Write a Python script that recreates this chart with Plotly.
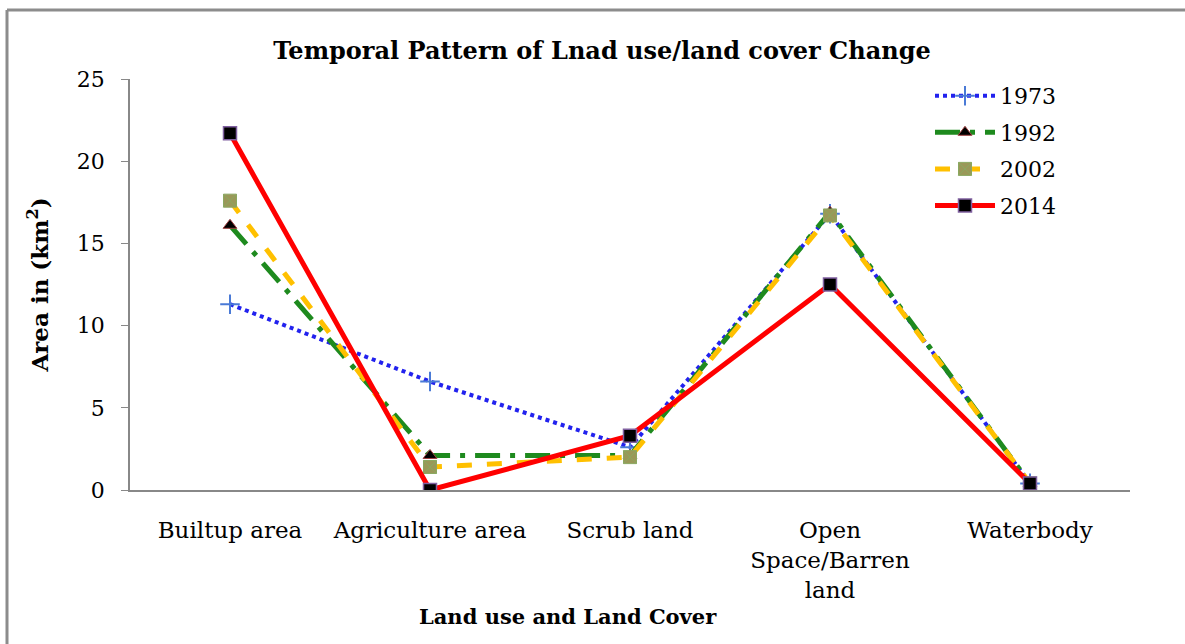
import plotly.graph_objects as go

categories = ["Builtup area", "Agriculture area", "Scrub land", "Open<br>Space/Barren<br>land", "Waterbody"]
y1973 = [11.3, 6.6, 2.6, 16.8, 0.4]
y1992 = [16.1, 2.1, 2.1, 16.9, 0.4]
y2002 = [17.6, 1.4, 2.0, 16.7, 0.4]
y2014 = [21.7, 0.0, 3.3, 12.5, 0.4]
y_ticks = [0, 5, 10, 15, 20, 25]

FONT = "DejaVu Serif"

fig = go.Figure()
fig.add_trace(go.Scatter(
    x=categories, y=y1973, name="1973", mode="lines+markers", legendgroup="a",
    line=dict(color="#2222ee", width=4, dash="dot"),
    marker=dict(symbol="cross-thin", size=14, line=dict(color="#4a7ad6", width=2))))
fig.add_trace(go.Scatter(
    x=categories, y=y1992, name="1992", mode="lines+markers", legendgroup="b",
    line=dict(color="#1e8a1e", width=5, dash="longdashdot"),
    marker=dict(symbol="triangle-up", size=12, color="#000000", line=dict(color="#a04040", width=1))))
fig.add_trace(go.Scatter(
    x=categories, y=y2002, name="2002", mode="lines+markers", legendgroup="c",
    line=dict(color="#ffc000", width=5, dash="dash"),
    marker=dict(symbol="square-x", size=13, color="#9a9858", line=dict(color="#8aa860", width=1))))
fig.add_trace(go.Scatter(
    x=categories, y=y2014, name="2014", mode="lines+markers", legendgroup="d",
    line=dict(color="#ff0000", width=5),
    marker=dict(symbol="square", size=13, color="#000000", line=dict(color="#8060a0", width=1.5))))

fig.update_layout(
    width=1185, height=644,
    margin=dict(l=130, r=55, t=79, b=154),
    paper_bgcolor="white", plot_bgcolor="white",
    font=dict(family=FONT, size=22, color="black"),
    title=dict(text="<b>Temporal Pattern of Lnad use/land cover Change</b>",
               x=0.472, xref="paper", xanchor="center", y=0.922, yanchor="middle",
               font=dict(family=FONT, size=24)),
    showlegend=True,
    legend=dict(x=0.80, y=1.01, xanchor="left", yanchor="top",
                font=dict(family=FONT, size=22), bgcolor="rgba(0,0,0,0)",
                tracegroupgap=5, itemwidth=60),
    xaxis=dict(range=[-0.5, 4.5], showline=True, linecolor="#888888", linewidth=1.5,
               ticks="", showgrid=False, zeroline=False, ticklabelstandoff=19,
               tickfont=dict(family=FONT, size=23)),
    yaxis=dict(range=[0, 25], tickvals=y_ticks, showline=True, linecolor="#888888", linewidth=1.5,
               ticks="outside", ticklen=7, tickcolor="#888888", showgrid=False, zeroline=False,
               ticklabelstandoff=12,
               tickfont=dict(family=FONT, size=22),
               title=dict(text="<b>Area in (km<sup>2</sup>)</b>", standoff=22,
                          font=dict(family=FONT, size=23))),
)

fig.add_annotation(text="<b>Land use and Land Cover</b>", xref="paper", yref="paper",
                   x=0.438, y=-0.307, xanchor="center", yanchor="middle", showarrow=False,
                   font=dict(family=FONT, size=21))

# outer chart border
border = dict(color="#8c8c8c", width=3)
fig.add_shape(type="line", xref="paper", yref="paper", x0=-0.123, y0=1.168, x1=1.06, y1=1.168, line=border)
fig.add_shape(type="line", xref="paper", yref="paper", x0=-0.123, y0=1.168, x1=-0.123, y1=-0.4, line=border)

fig.write_html("out.html", config={"displayModeBar": False},
               post_script="document.body.style.margin='0';")
